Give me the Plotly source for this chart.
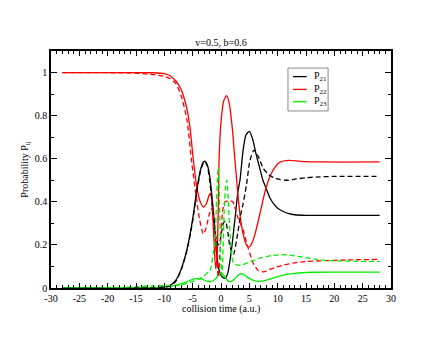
import plotly.graph_objects as go

# P21 solid / dashed (black)
t21 = [-28, -16, -12, -10, -9, -8, -7, -6, -5, -4.3, -3.6, -3.1, -2.8, -2.4, -2.0, -1.5, -1.06,
       -0.76, -0.4, 0.0, 0.4, 0.8, 1.2, 1.6, 2.0, 2.5, 3.0, 3.35, 3.9, 4.4, 5.0, 5.6, 6.2, 6.8,
       7.4, 8.0, 8.6, 9.3, 10.0, 11.0, 12.0, 13.0, 15.0, 20.0, 28.0]
p21 = [0, 0, 0.001, 0.005, 0.012, 0.035, 0.09, 0.18, 0.32, 0.45, 0.55, 0.585, 0.588, 0.57, 0.52, 0.4, 0.27,
       0.16, 0.09, 0.06, 0.048, 0.045, 0.07, 0.13, 0.21, 0.33, 0.45, 0.5, 0.64, 0.71, 0.727, 0.69, 0.62, 0.56,
       0.5, 0.46, 0.42, 0.39, 0.37, 0.355, 0.345, 0.34, 0.337, 0.337, 0.337]

t21d = [-28, -16, -12, -10, -9, -8, -7, -6, -5, -4.3, -3.6, -3.1, -2.8, -2.4, -2.0, -1.6, -1.2, -0.8,
        -0.4, 0.0, 0.4, 0.8, 1.2, 1.6, 2.2, 2.8, 3.4, 3.9, 4.5, 5.1, 5.8, 6.5, 7.5, 8.5, 9.5, 10.5,
        11.6, 13, 15, 17.5, 20, 28]
p21d = [0, 0, 0.001, 0.004, 0.01, 0.03, 0.085, 0.175, 0.31, 0.44, 0.545, 0.58, 0.585, 0.565, 0.5, 0.4, 0.3, 0.22,
        0.2, 0.24, 0.3, 0.31, 0.26, 0.19, 0.155, 0.23, 0.33, 0.39, 0.48, 0.59, 0.64, 0.615, 0.553, 0.525, 0.51, 0.503,
        0.5, 0.505, 0.512, 0.516, 0.518, 0.518]

# P22 solid / dashed (red)
t22 = [-28, -14, -12, -10, -9, -8, -7, -6.6, -6, -5.5, -4.9, -4.4, -3.9, -3.5, -3.1, -2.6, -2.1, -1.8,
       -1.5, -1.2, -0.95, -0.7, -0.5, -0.35, 0.0, 0.5, 1.0, 1.5, 2.0, 2.47, 3.0, 3.5, 4.0, 4.5, 4.95,
       5.4, 6.0, 7.0, 7.8, 8.6, 9.5, 10.4, 12.0, 14, 18, 28]
p22 = [1.0, 1.0, 0.999, 0.995, 0.985, 0.962, 0.92, 0.89, 0.83, 0.75, 0.6, 0.49, 0.42, 0.39, 0.376, 0.39, 0.43, 0.44,
       0.36, 0.2, 0.09, 0.14, 0.35, 0.59, 0.77, 0.87, 0.893, 0.85, 0.74, 0.59, 0.43, 0.31, 0.24, 0.2, 0.19,
       0.205, 0.25, 0.36, 0.45, 0.515, 0.56, 0.584, 0.592, 0.588, 0.585, 0.585]

t22d = [-28, -16, -13, -11, -10, -9, -8, -7, -6, -5.2, -4.5, -3.8, -3.1, -2.6, -2.1, -1.65, -1.3, -0.9,
        -0.47, -0.1, 0.3, 0.7, 1.3, 2.1, 2.8, 3.4, 3.9, 4.5, 5.1, 5.7, 6.6, 7.5, 8.5, 9.5, 11, 13, 15,
        18.6, 22, 28]
p22d = [1.0, 0.998, 0.993, 0.987, 0.982, 0.972, 0.95, 0.89, 0.78, 0.59, 0.45, 0.32, 0.25, 0.28, 0.34, 0.37, 0.3, 0.18,
        0.05, 0.2, 0.36, 0.4, 0.405, 0.4, 0.34, 0.3, 0.27, 0.21, 0.16, 0.114, 0.08, 0.075, 0.085, 0.095, 0.106, 0.117, 0.123,
        0.127, 0.13, 0.133]

# P23 solid / dashed (green)
t23 = [-28, -15, -12, -10, -9, -8, -7, -6, -5, -4.3, -3.5, -2.5, -1.8, -1.0, -0.4, 0.1, 0.6, 1.2, 1.8,
       2.5, 3.2, 3.8, 4.5, 5.5, 6.5, 7.2, 8, 9, 10, 11, 13, 16, 20, 28]
p23 = [0, 0.001, 0.002, 0.004, 0.007, 0.012, 0.02, 0.03, 0.04, 0.045, 0.042, 0.032, 0.03, 0.042, 0.06, 0.07, 0.055, 0.033, 0.03,
       0.045, 0.062, 0.066, 0.053, 0.038, 0.031, 0.032, 0.037, 0.045, 0.053, 0.06, 0.068, 0.073, 0.074, 0.074]

t23d = [-28, -18, -15, -12, -9, -7.2, -6, -5, -4, -3, -2.25, -1.94, -1.36, -1.06, -0.8, -0.6, -0.47, -0.3,
        -0.1, 0.1, 0.3, 0.55, 0.8, 1.0, 1.2, 1.5, 1.8, 2.2, 3.0, 3.6, 5.0, 6.0, 7.0, 8.0, 9.0, 10.7, 12,
        14, 17, 20, 24, 28]
p23d = [0, 0.002, 0.006, 0.01, 0.012, 0.014, 0.022, 0.03, 0.04, 0.055, 0.075, 0.08, 0.16, 0.22, 0.4, 0.52, 0.56, 0.45,
        0.2, 0.06, 0.12, 0.35, 0.47, 0.5, 0.45, 0.3, 0.17, 0.115, 0.106, 0.106, 0.12, 0.13, 0.14, 0.146, 0.151, 0.155, 0.153,
        0.145, 0.132, 0.126, 0.124, 0.124]

x_ticks = list(range(-30, 31, 5))
x_labels = [str(v) for v in x_ticks]  # plain hyphen like the original, not U+2212
y_ticks = [0, 0.2, 0.4, 0.6, 0.8, 1]
y_labels = ["0", "0.2", "0.4", "0.6", "0.8", "1"]

names = ["P<sub>21</sub>", "P<sub>22</sub>", "P<sub>23</sub>"]
colors = ["#000000", "#ff0000", "#00ee00"]
serif = "Liberation Serif"

fig = go.Figure()

solid = [(t21, p21), (t22, p22), (t23, p23)]
dashed = [(t21d, p21d), (t22d, p22d), (t23d, p23d)]

for i, (t, p) in enumerate(solid):
    fig.add_trace(go.Scatter(x=t, y=p, mode="lines", name=names[i], showlegend=False,
                             line=dict(color=colors[i], width=1.3, shape="spline", smoothing=0.6)))
for i, (t, p) in enumerate(dashed):
    fig.add_trace(go.Scatter(x=t, y=p, mode="lines", showlegend=False,
                             line=dict(color=colors[i], width=1.3, dash="5px,3px",
                                       shape="spline", smoothing=0.6)))

# small legend box drawn by hand (plotly's own legend is much wider than the original)
fig.add_shape(type="rect", xref="paper", yref="paper", x0=0.697, x1=0.815, y0=0.747, y1=0.928,
              line=dict(color="#888888", width=1), fillcolor="white", layer="above")
leg_y = [0.892, 0.838, 0.786]
for i in range(3):
    fig.add_shape(type="line", xref="paper", yref="paper", x0=0.712, x1=0.752, y0=leg_y[i], y1=leg_y[i],
                  line=dict(color=colors[i], width=1.3), layer="above")
    fig.add_annotation(xref="paper", yref="paper", x=0.768, y=leg_y[i], text=names[i], showarrow=False,
                       xanchor="left", yanchor="middle", font=dict(family=serif, size=10))

# axis titles as annotations so they sit exactly where the original has them
fig.add_annotation(xref="paper", yref="paper", x=0.5, y=-0.088, text="collision time (a.u.)",
                   showarrow=False, xanchor="center", yanchor="middle", font=dict(family=serif, size=10))
fig.add_annotation(xref="paper", yref="paper", x=-0.076, y=0.5, text="Probability P<sub>ij</sub>",
                   showarrow=False, textangle=-90, xanchor="center", yanchor="middle",
                   font=dict(family=serif, size=10))

fig.update_layout(
    width=440, height=340,
    margin=dict(l=51, r=49, t=51, b=52, autoexpand=False),
    paper_bgcolor="white", plot_bgcolor="white",
    font=dict(family=serif, size=10, color="black"),
    showlegend=False,
    title=dict(text="v=0.5, b=0.6", x=221 / 440, xanchor="center", y=1 - 42 / 340, yanchor="middle",
               font=dict(family=serif, size=10)),
)

fig.update_xaxes(range=[-30, 30], tickvals=x_ticks, ticktext=x_labels, showline=True, linecolor="black",
                 linewidth=1.5, mirror="allticks", ticks="inside", ticklen=5, tickcolor="black",
                 tickfont=dict(family=serif, size=10), ticklabelstandoff=0,
                 minor=dict(dtick=1, ticks="inside", ticklen=3, tickcolor="black"), automargin=False,
                 showgrid=False, zeroline=False)
fig.update_yaxes(range=[0, 1.1], tickvals=y_ticks, ticktext=y_labels,
                 showline=True, linecolor="black", linewidth=1.5, mirror="allticks", ticks="inside", ticklen=6,
                 tickcolor="black", tickfont=dict(family=serif, size=10),
                 minor=dict(dtick=0.1, ticks="inside", ticklen=3, tickcolor="black"),
                 automargin=False, showgrid=False, zeroline=False)

# drop the page's default body margin so the figure sits at the window's corner
fig.write_html("out.html", config={"displayModeBar": False},
               post_script="document.body.style.margin='0';")
